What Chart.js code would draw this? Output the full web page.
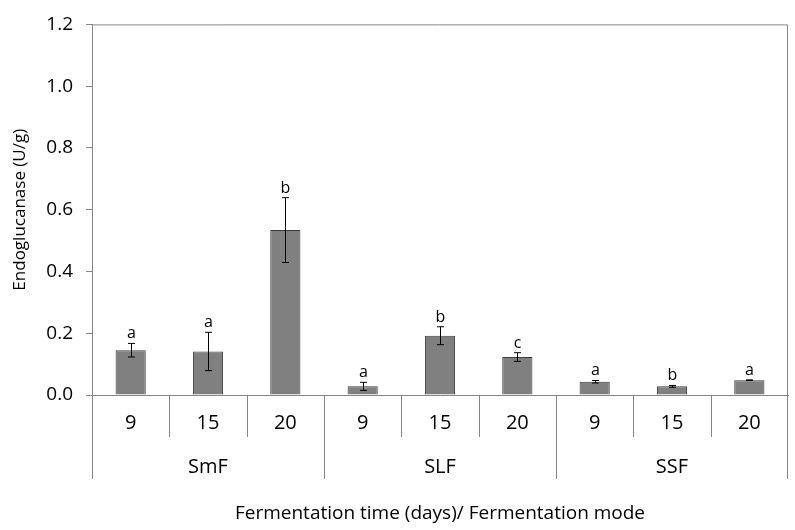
<!DOCTYPE html>
<html>
<head>
<meta charset="utf-8">
<script src="https://cdn.jsdelivr.net/npm/chart.js@4"></script>
<style>
  html, body { margin: 0; padding: 0; background: #fff; }
  #wrap { width: 795px; height: 530px; }
</style>
</head>
<body>
<div id="wrap"><canvas id="endoChart" width="795" height="530"></canvas></div>
<script>
// data
const categories = ['9', '15', '20', '9', '15', '20', '9', '15', '20'];
const groups = ['SmF', 'SLF', 'SSF'];
const means = [0.145, 0.141, 0.534, 0.028, 0.192, 0.123, 0.043, 0.028, 0.048];
const errors = [0.022, 0.062, 0.105, 0.013, 0.029, 0.014, 0.004, 0.003, 0.001];
const letters = ['a', 'a', 'b', 'a', 'b', 'c', 'a', 'b', 'a'];
const yTicks = [0, 0.2, 0.4, 0.6, 0.8, 1.0, 1.2];

const FONT = "'Open Sans', 'Liberation Sans', sans-serif";
const AXIS_GREY = '#868686';

// error bars, letters, frame and the two-level category axis
const extras = {
    id: 'extras',
    afterDatasetsDraw(chart) {
        const ctx = chart.ctx;
        const x = chart.scales.x;
        const y = chart.scales.y;
        ctx.save();
        ctx.strokeStyle = '#000';
        ctx.lineWidth = 1;
        ctx.fillStyle = '#000';
        ctx.font = '16px ' + FONT;
        ctx.textAlign = 'center';
        ctx.textBaseline = 'alphabetic';
        means.forEach((m, i) => {
            const cx = Math.round(x.getPixelForValue(i)) + 0.5;
            const top = y.getPixelForValue(m + errors[i]);
            const bot = y.getPixelForValue(m - errors[i]);
            ctx.beginPath();
            ctx.moveTo(cx, top);
            ctx.lineTo(cx, bot);
            ctx.moveTo(cx - 3.5, top);
            ctx.lineTo(cx + 3.5, top);
            ctx.moveTo(cx - 3.5, bot);
            ctx.lineTo(cx + 3.5, bot);
            ctx.stroke();
            ctx.fillText(letters[i], cx, top - 5);
        });
        ctx.restore();
    },
    afterDraw(chart) {
        const ctx = chart.ctx;
        const area = chart.chartArea;
        const x = chart.scales.x;
        const step = x.getPixelForValue(1) - x.getPixelForValue(0);
        ctx.save();
        ctx.strokeStyle = AXIS_GREY;
        ctx.lineWidth = 1;
        // top and right frame
        ctx.beginPath();
        ctx.moveTo(area.left, area.top + 0.5);
        ctx.lineTo(area.right - 0.5, area.top + 0.5);
        ctx.lineTo(area.right - 0.5, area.bottom);
        ctx.stroke();
        // separators under the axis
        for (let b = 0; b <= categories.length; b++) {
            const px = Math.round(x.getPixelForValue(0) - step / 2 + b * step) + 0.5;
            const isGroup = b % 3 === 0;
            const end = area.bottom + (isGroup ? 84 : 42);
            ctx.beginPath();
            ctx.moveTo(Math.min(px, area.right - 0.5), area.bottom);
            ctx.lineTo(Math.min(px, area.right - 0.5), end);
            ctx.stroke();
        }
        // group labels
        ctx.fillStyle = '#000';
        ctx.font = '20px ' + FONT;
        ctx.textAlign = 'center';
        ctx.textBaseline = 'middle';
        groups.forEach((g, k) => {
            const cx = x.getPixelForValue(k * 3 + 1);
            ctx.fillText(g, cx, area.bottom + 72);
        });
        ctx.restore();
    }
};

const ctx = document.getElementById('endoChart').getContext('2d');
const chart = new Chart(ctx, {
    type: 'bar',
    data: {
        labels: categories,
        datasets: [{
            data: means,
            backgroundColor: '#808080',
            borderColor: '#3c3c3c',
            borderWidth: 1,
            barPercentage: 0.39,
            categoryPercentage: 1.0
        }]
    },
    options: {
        responsive: false,
        animation: false,
        devicePixelRatio: 1,
        layout: { padding: { top: 15, right: 7, bottom: 0, left: 0 } },
        plugins: {
            legend: { display: false },
            tooltip: { enabled: false }
        },
        scales: {
            x: {
                type: 'category',
                offset: true,
                grid: { display: false, drawTicks: false },
                border: { display: true, color: AXIS_GREY, width: 1 },
                ticks: {
                    color: '#000',
                    font: { family: FONT, size: 20 },
                    padding: 16,
                    maxRotation: 0,
                    autoSkip: false
                },
                title: {
                    display: true,
                    text: 'Fermentation time (days)/ Fermentation mode',
                    color: '#000',
                    font: { family: FONT, size: 19 },
                    padding: { top: 0, bottom: 5 }
                },
                afterFit: (s) => { s.height = 135; }
            },
            y: {
                min: 0,
                max: 1.2,
                afterBuildTicks: (s) => { s.ticks = yTicks.map(v => ({ value: v })); },
                grid: {
                    display: true,
                    drawOnChartArea: false,
                    drawTicks: true,
                    tickLength: 6,
                    color: AXIS_GREY
                },
                border: { display: true, color: AXIS_GREY, width: 1 },
                ticks: {
                    color: '#000',
                    font: { family: FONT, size: 19 },
                    padding: 13,
                    callback: (v) => Number(v).toFixed(1)
                },
                title: {
                    display: true,
                    text: 'Endoglucanase (U/g)',
                    color: '#000',
                    font: { family: FONT, size: 17 },
                    padding: { top: 10, bottom: 0 }
                },
                afterFit: (s) => { s.width = 92; }
            }
        }
    },
    plugins: [extras]
});
</script>
</body>
</html>
